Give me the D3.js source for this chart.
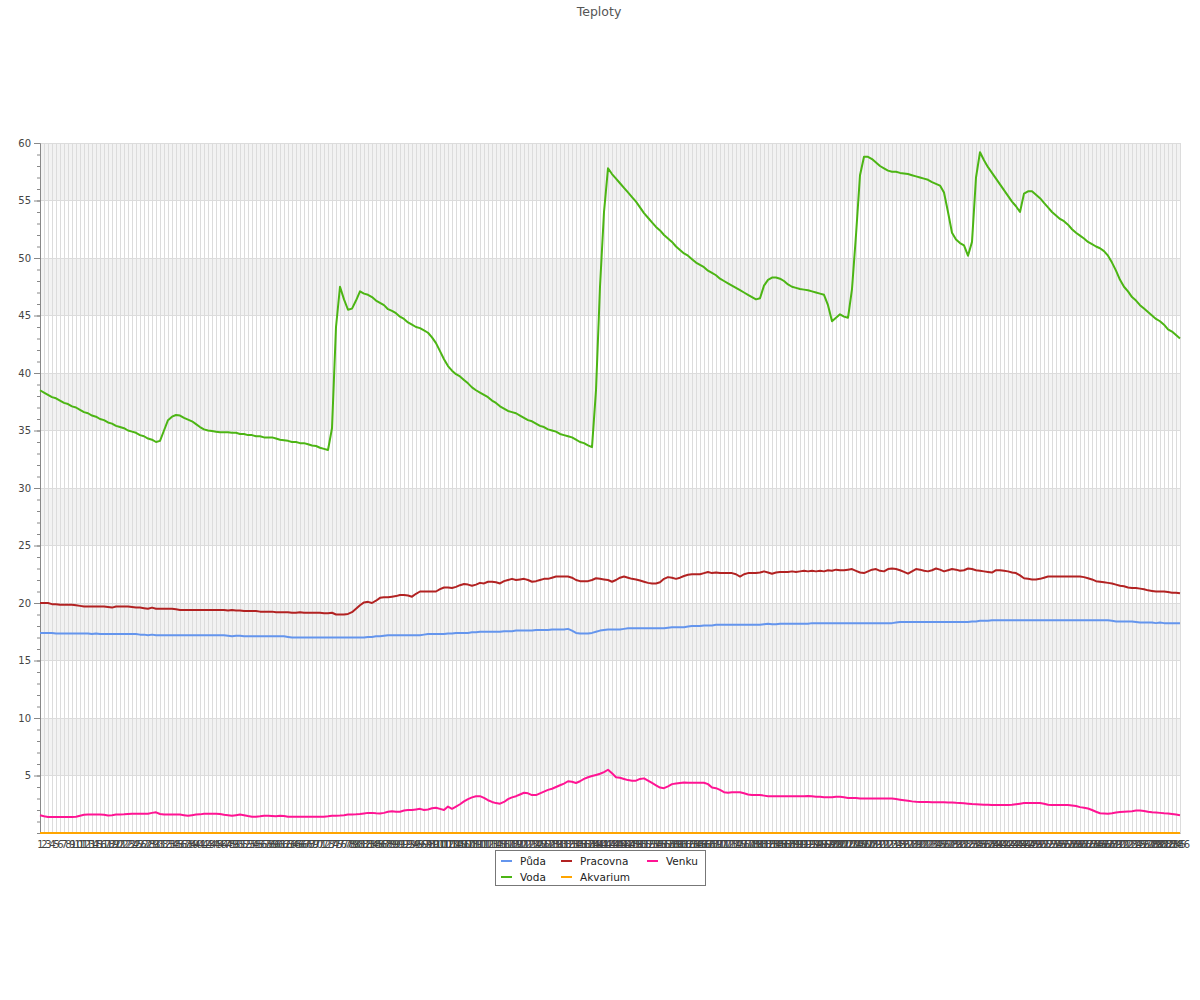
<!DOCTYPE html>
<html>
<head>
<meta charset="utf-8">
<script src="https://cdn.jsdelivr.net/npm/d3@7"></script>
<style>
  body { margin: 0; background: #fff; }
  text { font-family: "DejaVu Sans", sans-serif; }
</style>
</head>
<body>
<svg id="chart" width="1200" height="1000"></svg>
<script>
const title = "Teploty";
const categories = d3.range(1, 287).map(String);
const seriesNames = ["Půda", "Voda", "Pracovna", "Akvarium", "Venku"];
const seriesColors = ["#6495ed", "#4cb514", "#b22222", "#ffa500", "#ff1493"];
const yTickLabels = [5, 10, 15, 20, 25, 30, 35, 40, 45, 50, 55, 60];

const puda = [
17.4,17.4,17.4,17.4,17.35,17.35,17.35,17.35,17.35,17.35,
17.35,17.35,17.35,17.3,17.35,17.3,17.3,17.3,17.3,17.3,
17.3,17.3,17.3,17.3,17.3,17.25,17.25,17.2,17.25,17.2,
17.2,17.2,17.2,17.2,17.2,17.2,17.2,17.2,17.2,17.2,
17.2,17.2,17.2,17.2,17.2,17.2,17.2,17.15,17.1,17.15,
17.15,17.1,17.1,17.1,17.1,17.1,17.1,17.1,17.1,17.1,
17.1,17.1,17.05,17.0,17.0,17.0,17.0,17.0,17.0,17.0,
17.0,17.0,17.0,17.0,17.0,17.0,17.0,17.0,17.0,17.0,
17.0,17.0,17.05,17.05,17.1,17.1,17.15,17.2,17.2,17.2,
17.2,17.2,17.2,17.2,17.2,17.2,17.25,17.3,17.3,17.3,
17.3,17.3,17.35,17.35,17.4,17.4,17.4,17.4,17.45,17.45,
17.5,17.5,17.5,17.5,17.5,17.5,17.55,17.55,17.55,17.6,
17.6,17.6,17.6,17.6,17.65,17.65,17.65,17.65,17.7,17.7,
17.7,17.7,17.75,17.6,17.4,17.35,17.35,17.35,17.4,17.5,
17.6,17.65,17.7,17.7,17.7,17.7,17.75,17.8,17.8,17.8,
17.8,17.8,17.8,17.8,17.8,17.8,17.8,17.85,17.9,17.9,
17.9,17.9,17.95,18.0,18.0,18.0,18.05,18.05,18.05,18.1,
18.1,18.1,18.1,18.1,18.1,18.1,18.1,18.1,18.1,18.1,
18.1,18.15,18.2,18.15,18.15,18.2,18.2,18.2,18.2,18.2,
18.2,18.2,18.2,18.25,18.25,18.25,18.25,18.25,18.25,18.25,
18.25,18.25,18.25,18.25,18.25,18.25,18.25,18.25,18.25,18.25,
18.25,18.25,18.25,18.25,18.3,18.35,18.35,18.35,18.35,18.35,
18.35,18.35,18.35,18.35,18.35,18.35,18.35,18.35,18.35,18.35,
18.35,18.35,18.35,18.4,18.4,18.45,18.45,18.45,18.5,18.5,
18.5,18.5,18.5,18.5,18.5,18.5,18.5,18.5,18.5,18.5,
18.5,18.5,18.5,18.5,18.5,18.5,18.5,18.5,18.5,18.5,
18.5,18.5,18.5,18.5,18.5,18.5,18.5,18.5,18.45,18.4,
18.4,18.4,18.4,18.4,18.35,18.3,18.3,18.3,18.3,18.25,
18.3,18.25,18.25,18.25,18.25,18.25
];

const voda = [
38.5,38.3,38.1,37.9,37.8,37.6,37.4,37.3,37.1,37.0,
36.8,36.6,36.5,36.3,36.2,36.0,35.9,35.7,35.6,35.4,
35.3,35.2,35.0,34.9,34.8,34.6,34.5,34.3,34.2,34.0,
34.1,35.0,35.9,36.2,36.35,36.3,36.1,35.95,35.8,35.55,
35.3,35.1,35.0,34.95,34.9,34.85,34.85,34.85,34.8,34.8,
34.7,34.7,34.6,34.6,34.5,34.5,34.4,34.4,34.4,34.3,
34.2,34.15,34.1,34.0,34.0,33.9,33.9,33.8,33.7,33.65,
33.5,33.4,33.3,35.2,44.0,47.5,46.4,45.5,45.6,46.3,
47.1,46.9,46.8,46.6,46.3,46.1,45.9,45.55,45.4,45.2,
44.9,44.7,44.4,44.2,44.0,43.9,43.7,43.5,43.1,42.6,
41.9,41.2,40.6,40.2,39.9,39.7,39.4,39.1,38.75,38.5,
38.3,38.1,37.9,37.6,37.4,37.1,36.9,36.7,36.6,36.5,
36.3,36.1,35.9,35.8,35.6,35.4,35.3,35.1,35.0,34.9,
34.7,34.6,34.5,34.4,34.2,34.0,33.9,33.7,33.55,38.5,
47.5,54.0,57.8,57.3,56.9,56.5,56.1,55.7,55.3,54.9,
54.4,53.9,53.5,53.1,52.7,52.4,52.0,51.7,51.4,51.0,
50.7,50.4,50.2,49.9,49.6,49.4,49.2,48.9,48.7,48.5,
48.2,48.0,47.8,47.6,47.4,47.2,47.0,46.8,46.6,46.4,
46.5,47.6,48.1,48.3,48.3,48.2,48.0,47.7,47.5,47.4,
47.3,47.25,47.2,47.1,47.0,46.9,46.8,45.9,44.5,44.8,
45.1,44.9,44.8,47.3,52.0,57.2,58.8,58.8,58.6,58.3,
58.0,57.8,57.6,57.5,57.5,57.4,57.35,57.3,57.2,57.1,
57.0,56.9,56.8,56.6,56.45,56.3,55.7,54.0,52.2,51.6,
51.3,51.1,50.2,51.4,57.0,59.2,58.5,57.9,57.4,56.9,
56.4,55.9,55.4,54.9,54.5,54.0,55.6,55.8,55.8,55.5,
55.2,54.8,54.4,54.0,53.7,53.4,53.2,52.9,52.5,52.2,
51.95,51.7,51.4,51.2,51.0,50.85,50.6,50.2,49.6,48.9,
48.1,47.5,47.1,46.6,46.3,45.9,45.6,45.3,45.0,44.7,
44.5,44.2,43.8,43.6,43.3,43.0
];

const pracovna = [
20.0,20.0,20.0,19.9,19.9,19.85,19.85,19.85,19.85,19.8,
19.75,19.7,19.7,19.7,19.7,19.7,19.7,19.65,19.6,19.7,
19.7,19.7,19.7,19.65,19.6,19.6,19.55,19.5,19.6,19.5,
19.5,19.5,19.5,19.5,19.45,19.4,19.4,19.4,19.4,19.4,
19.4,19.4,19.4,19.4,19.4,19.4,19.4,19.35,19.4,19.35,
19.35,19.3,19.3,19.3,19.3,19.25,19.25,19.25,19.25,19.2,
19.2,19.2,19.2,19.15,19.15,19.2,19.15,19.15,19.15,19.15,
19.15,19.1,19.1,19.15,19.0,19.0,19.0,19.05,19.2,19.5,
19.8,20.05,20.1,20.0,20.2,20.45,20.5,20.5,20.55,20.6,
20.7,20.7,20.65,20.55,20.8,21.0,21.0,21.0,21.0,21.0,
21.2,21.35,21.35,21.3,21.4,21.55,21.65,21.6,21.5,21.6,
21.75,21.7,21.85,21.85,21.8,21.7,21.9,22.0,22.1,22.0,
22.05,22.1,22.0,21.85,21.9,22.0,22.1,22.1,22.2,22.3,
22.3,22.3,22.3,22.2,22.0,21.9,21.9,21.9,22.0,22.15,
22.1,22.05,22.0,21.85,22.0,22.2,22.3,22.2,22.1,22.05,
21.95,21.85,21.75,21.7,21.7,21.8,22.1,22.25,22.2,22.1,
22.2,22.35,22.45,22.5,22.5,22.5,22.6,22.7,22.6,22.65,
22.6,22.6,22.6,22.6,22.5,22.3,22.5,22.6,22.6,22.6,
22.65,22.75,22.65,22.55,22.65,22.7,22.7,22.7,22.75,22.7,
22.75,22.8,22.75,22.8,22.75,22.8,22.75,22.85,22.8,22.9,
22.85,22.85,22.9,22.95,22.8,22.65,22.6,22.75,22.9,22.95,
22.8,22.75,22.95,23.0,22.95,22.85,22.7,22.55,22.75,22.95,
22.9,22.8,22.75,22.85,23.0,22.9,22.75,22.85,22.95,22.9,
22.8,22.85,23.0,22.95,22.85,22.8,22.75,22.7,22.65,22.85,
22.85,22.8,22.75,22.65,22.6,22.4,22.15,22.1,22.05,22.05,
22.1,22.2,22.3,22.3,22.3,22.3,22.3,22.3,22.3,22.3,
22.3,22.25,22.15,22.05,21.9,21.85,21.8,21.75,21.7,21.6,
21.5,21.45,21.35,21.3,21.3,21.25,21.2,21.1,21.05,21.0,
21.0,21.0,20.95,20.9,20.9,20.85
];

const akvarium = [
0,0,0,0,0,0,0,0,0,0, 0,0,0,0,0,0,0,0,0,0, 0,0,0,0,0,0,0,0,0,0,
0,0,0,0,0,0,0,0,0,0, 0,0,0,0,0,0,0,0,0,0, 0,0,0,0,0,0,0,0,0,0,
0,0,0,0,0,0,0,0,0,0, 0,0,0,0,0,0,0,0,0,0, 0,0,0,0,0,0,0,0,0,0,
0,0,0,0,0,0,0,0,0,0, 0,0,0,0,0,0,0,0,0,0, 0,0,0,0,0,0,0,0,0,0,
0,0,0,0,0,0,0,0,0,0, 0,0,0,0,0,0,0,0,0,0, 0,0,0,0,0,0,0,0,0,0,
0,0,0,0,0,0,0,0,0,0, 0,0,0,0,0,0,0,0,0,0, 0,0,0,0,0,0,0,0,0,0,
0,0,0,0,0,0,0,0,0,0, 0,0,0,0,0,0,0,0,0,0, 0,0,0,0,0,0,0,0,0,0,
0,0,0,0,0,0,0,0,0,0, 0,0,0,0,0,0,0,0,0,0, 0,0,0,0,0,0,0,0,0,0,
0,0,0,0,0,0,0,0,0,0, 0,0,0,0,0,0,0,0,0,0, 0,0,0,0,0,0,0,0,0,0,
0,0,0,0,0,0,0,0,0,0, 0,0,0,0,0,0
];

const venku = [
1.55,1.45,1.4,1.4,1.4,1.4,1.4,1.4,1.4,1.42,
1.5,1.58,1.6,1.6,1.6,1.6,1.58,1.52,1.55,1.6,
1.6,1.62,1.65,1.68,1.68,1.68,1.68,1.68,1.75,1.8,
1.65,1.6,1.6,1.6,1.6,1.6,1.55,1.5,1.55,1.6,
1.62,1.68,1.68,1.68,1.68,1.65,1.58,1.55,1.5,1.55,
1.6,1.55,1.48,1.42,1.42,1.45,1.5,1.5,1.48,1.45,
1.5,1.48,1.42,1.42,1.42,1.42,1.42,1.42,1.42,1.42,
1.42,1.42,1.45,1.5,1.5,1.52,1.55,1.6,1.6,1.62,
1.65,1.7,1.75,1.75,1.72,1.7,1.75,1.85,1.9,1.85,
1.85,1.95,2.0,2.0,2.05,2.1,2.0,2.05,2.15,2.2,
2.1,2.0,2.3,2.1,2.3,2.5,2.75,2.95,3.1,3.2,
3.2,3.05,2.85,2.7,2.6,2.55,2.7,2.95,3.1,3.2,
3.35,3.5,3.45,3.3,3.3,3.45,3.6,3.75,3.85,4.0,
4.15,4.3,4.5,4.45,4.35,4.5,4.7,4.85,4.95,5.05,
5.15,5.3,5.5,5.2,4.85,4.8,4.7,4.6,4.55,4.55,
4.7,4.75,4.55,4.35,4.15,3.95,3.9,4.05,4.25,4.3,
4.35,4.4,4.37,4.37,4.37,4.37,4.37,4.25,3.95,3.9,
3.75,3.55,3.5,3.55,3.55,3.55,3.45,3.35,3.3,3.3,
3.3,3.25,3.2,3.2,3.2,3.2,3.2,3.2,3.2,3.2,
3.2,3.2,3.22,3.2,3.15,3.15,3.1,3.1,3.1,3.15,
3.15,3.1,3.05,3.05,3.05,3.0,3.0,3.0,3.0,3.0,
3.0,3.0,3.0,3.0,2.95,2.9,2.85,2.8,2.75,2.72,
2.7,2.7,2.7,2.68,2.68,2.68,2.67,2.66,2.65,2.62,
2.6,2.58,2.55,2.52,2.5,2.48,2.46,2.45,2.44,2.44,
2.44,2.44,2.44,2.45,2.5,2.55,2.6,2.6,2.6,2.6,
2.6,2.55,2.45,2.44,2.44,2.44,2.44,2.44,2.4,2.35,
2.25,2.2,2.13,2.0,1.85,1.72,1.7,1.68,1.72,1.78,
1.82,1.85,1.88,1.9,1.95,1.95,1.92,1.85,1.8,1.78,
1.75,1.72,1.7,1.65,1.6,1.55
];

const seriesValues = [puda, voda, pracovna, akvarium, venku];

const svg = d3.select("#chart");
const plotLeft = 40, plotRight = 1180, plotTop = 143, plotBottom = 833;

const x = d3.scalePoint().domain(categories).range([plotLeft, plotRight]);
const y = d3.scaleLinear().domain([0, 60]).range([plotBottom, plotTop]);

// Title
svg.append("text").attr("x", 599).attr("y", 16).attr("text-anchor", "middle")
  .attr("font-size", 12.5).attr("fill", "#555").text(title);

// Alternating bands
const bandStarts = d3.range(0, 60, 5);
svg.append("g").selectAll("rect").data(bandStarts.filter((d, i) => i % 2 === 1)).join("rect")
  .attr("x", plotLeft).attr("width", plotRight - plotLeft)
  .attr("y", d => y(d + 5)).attr("height", d => y(d) - y(d + 5))
  .attr("fill", "#f2f2f2");

// Vertical grid
svg.append("g").selectAll("line").data(categories).join("line")
  .attr("x1", d => x(d)).attr("x2", d => x(d))
  .attr("y1", plotTop).attr("y2", plotBottom)
  .attr("stroke", "#dcdcdc").attr("stroke-width", 1).attr("shape-rendering", "crispEdges");

// Horizontal grid
svg.append("g").selectAll("line").data(yTickLabels).join("line")
  .attr("x1", plotLeft).attr("x2", plotRight)
  .attr("y1", d => y(d)).attr("y2", d => y(d))
  .attr("stroke", "#dcdcdc").attr("stroke-width", 1).attr("shape-rendering", "crispEdges");

// Y axis minor ticks
const minorAxis = svg.append("g").attr("transform", `translate(${plotLeft},0)`)
  .call(d3.axisLeft(y).tickValues(d3.range(0, 61, 1)).tickSize(3).tickFormat(""));
minorAxis.selectAll("line").attr("stroke", "#888");
minorAxis.select(".domain").attr("stroke", "#888");

// Y axis major ticks
const yAxis = svg.append("g").attr("transform", `translate(${plotLeft},0)`)
  .call(d3.axisLeft(y).tickValues(yTickLabels).tickSize(6).tickPadding(3));
yAxis.select(".domain").remove();
yAxis.selectAll("line").attr("stroke", "#888");
yAxis.selectAll("text").attr("font-size", 10).attr("fill", "#444")
  .attr("font-family", "DejaVu Sans");

// X axis labels
const xAxis = svg.append("g").attr("transform", `translate(0,${plotBottom})`)
  .call(d3.axisBottom(x).tickSize(0).tickPadding(8));
xAxis.select(".domain").attr("stroke", "#888");
xAxis.selectAll("text").attr("font-size", 10).attr("fill", "#444")
  .attr("font-family", "DejaVu Sans");

// Lines
const line = d3.line().x((d, i) => x(categories[i])).y(d => y(d));
svg.append("g").selectAll("path").data(seriesValues).join("path")
  .attr("d", d => line(d))
  .attr("fill", "none")
  .attr("stroke", (d, i) => seriesColors[i])
  .attr("stroke-width", 2)
  .attr("stroke-linejoin", "round");

// Legend
const lg = svg.append("g");
lg.append("rect").attr("x", 495.5).attr("y", 850.5).attr("width", 210).attr("height", 35)
  .attr("fill", "#fff").attr("stroke", "#777").attr("stroke-width", 1);
const colX = [501, 561, 647];
const rowY = [861, 877];
seriesNames.forEach((name, i) => {
  const col = Math.floor(i / 2), row = i % 2;
  const g = lg.append("g");
  g.append("line").attr("x1", colX[col]).attr("x2", colX[col] + 11)
    .attr("y1", rowY[row]).attr("y2", rowY[row])
    .attr("stroke", seriesColors[i]).attr("stroke-width", 2);
  g.append("text").attr("x", colX[col] + 19).attr("y", rowY[row] + 3.5)
    .attr("font-size", 10.5).attr("fill", "#222").text(name);
});
</script>
</body>
</html>
